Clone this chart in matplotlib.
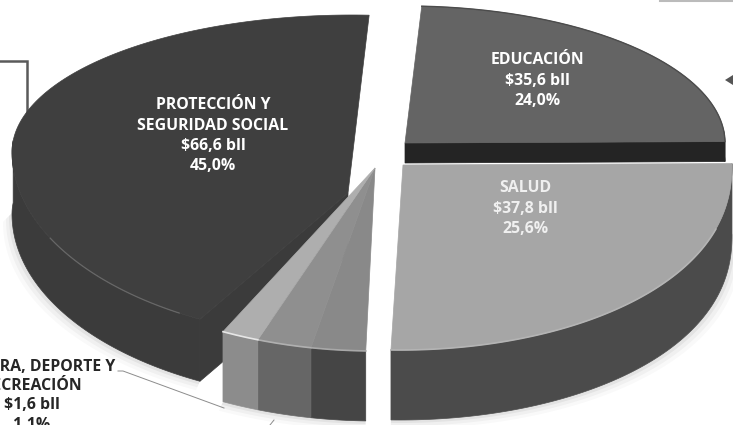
import numpy as np
import matplotlib
matplotlib.use("Agg")
import matplotlib.pyplot as plt
from matplotlib.patches import Polygon

plt.rcParams["font.family"] = ["Open Sans", "DejaVu Sans"]

# share of spending per slice, clockwise from the top
labels = ["EDUCACIÓN", "SALUD", "", "", "CULTURA, DEPORTE Y\nRECREACIÓN", "PROTECCIÓN Y\nSEGURIDAD SOCIAL"]
billions = [35.6, 37.8, None, None, 1.6, 66.6]
shares = [24.0, 25.6, 1.6, 1.6, 1.1, 45.0]

# look of each slice
top_colors = ["#646464", "#a6a6a6", "#898989", "#8f8f8f", "#aeaeae", "#3f3f3f"]
side_colors = ["#242424", "#4b4b4b", "#454545", "#666666", "#8c8c8c", "#3b3b3b"]
rim_colors = ["#4c4c4c", "#b4b4b4", "#a8a8a8", "#b0b0b0", "#e6e6e6", "#777777"]
centers = [(405, 143), (400, 165), (375, 168), (375, 168), (375, 168), (352, 152)]
tips = [(405, 143), (403, 165), (375, 168), (375, 168), (375, 168), (348, 193)]
radius_x = [320, 332, 340, 340, 340, 340]
radius_down = [187, 185, 183, 183, 183, 187]
round_pow = [1.0, 0.9, 1.0, 1.0, 1.0, 1.0]
depth = [20, 70, 70, 70, 70, 62]
# the picture's perspective stretches the thin front slices
stretch = [1.0, 1.0, 1.615, 1.615, 1.615, 0.965]
cut_faces = [(False, True), (False, False), (False, False), (False, False), (False, False), (True, False)]
text_pos = [(537, 60), (525, 188), None, None, (32, 367), (213, 105)]
text_colors = ["white", "#f0f0f0", None, None, "#262626", "white"]
text_step = [20.5, 20.5, 0, 0, 19.2, 20.5]

START = 87
RY_UP = 137


def rim(theta, i, grow=0):
    t = np.radians(theta)
    cx, cy = centers[i]
    s = np.sin(t)
    dy = np.where(s > 0, RY_UP * s, radius_down[i] * np.abs(s) ** round_pow[i])
    sign = np.where(s > 0, -1, 1)
    return np.column_stack([cx + (radius_x[i] + grow) * np.cos(t), cy + sign * dy])


def money(v):
    return "${:.1f} bll".format(v).replace(".", ",")


def pct(v):
    return "{:.1f}%".format(v).replace(".", ",")


fig = plt.figure(figsize=(7.33, 4.25), dpi=100)
ax = fig.add_axes([0, 0, 1, 1])
ax.set_xlim(0, 733)
ax.set_ylim(425, 0)
ax.axis("off")

# work out the angle span of each slice
spans = []
angle = START
for s, k in zip(shares, stretch):
    sweep = s * 3.6 * k
    spans.append((angle, angle - sweep))
    angle -= sweep

# soft shadow under the front of the walls
for i in [5, 1, 2, 3, 4]:
    a0, a1 = spans[i]
    th = np.linspace(a0, a1, 160)
    th = th[np.sin(np.radians(th)) < 0.02]
    low = rim(th, i) + [0, depth[i]]
    for g, alpha in [(9, 0.025), (6, 0.035), (3, 0.05)]:
        outer = rim(th, i, g) + [0, depth[i] + g]
        ax.add_patch(Polygon(np.vstack([low, outer[::-1]]), closed=True, fc="black", ec="none", alpha=alpha, zorder=1))

order = [5, 0, 1, 2, 3, 4]
for z, i in enumerate(order):
    a0, a1 = spans[i]
    th = np.linspace(a0, a1, 150)
    arc = rim(th, i)
    tip = np.array(tips[i], dtype=float)
    down = np.array([0, depth[i]])
    base = 2 + z * 3
    for end, show in zip((arc[0], arc[-1]), cut_faces[i]):
        if show:
            face = np.array([tip, end, end + down, tip + down])
            ax.add_patch(Polygon(face, closed=True, fc=side_colors[i], ec=side_colors[i], lw=0.5, zorder=base))
    # outer wall, only where it faces the viewer
    front = arc[np.sin(np.radians(th)) < 0.1]
    wall = np.vstack([front, front[::-1] + down])
    ax.add_patch(Polygon(wall, closed=True, fc=side_colors[i], ec=side_colors[i], lw=0.5, zorder=base))
    # top
    top = np.vstack([tip, arc])
    ax.add_patch(Polygon(top, closed=True, fc=top_colors[i], ec=top_colors[i], lw=0.5, zorder=base + 1))
    # light line on the front rim
    if i == 5:
        lit = rim(np.linspace(a0 - 4, a0 - 36, 60), i)
        ax.plot(lit[:, 0], lit[:, 1], color=rim_colors[i], lw=0.9, alpha=0.7, zorder=base + 2)
    elif i == 0:
        ax.plot(arc[:, 0], arc[:, 1], color=rim_colors[i], lw=1.0, zorder=base + 2)
    else:
        lit = arc[np.sin(np.radians(th)) < -0.3]
        ax.plot(lit[:, 0], lit[:, 1], color=rim_colors[i], lw=1.2, zorder=base + 2)

# callout frame left, arrow and rule right
ax.plot([0, 27, 27], [61, 61, 128], color="#5a5a5a", lw=1.8, zorder=0, solid_joinstyle="miter")
ax.add_patch(Polygon([[725, 80], [733, 75], [733, 85]], closed=True, fc="#555555", ec="none", zorder=0))
ax.plot([660, 733], [0.5, 0.5], color="#bbbbbb", lw=1.5, zorder=0)

# leader lines for the small slice
ax.plot([118, 123, 224], [371, 371, 408], color="#8c8c8c", lw=0.7, zorder=30)
ax.plot([270, 274], [425, 420], color="#8c8c8c", lw=0.7, zorder=30)

for i, name in enumerate(labels):
    if not name:
        continue
    x, y = text_pos[i]
    lines = name.split("\n") + [money(billions[i]), pct(shares[i])]
    for n, line in enumerate(lines):
        ax.text(x, y + n * text_step[i], line, color=text_colors[i], ha="center", va="center",
                fontsize=11.4, fontweight="bold", zorder=40, clip_on=True)

fig.savefig("out.png", dpi=100)
